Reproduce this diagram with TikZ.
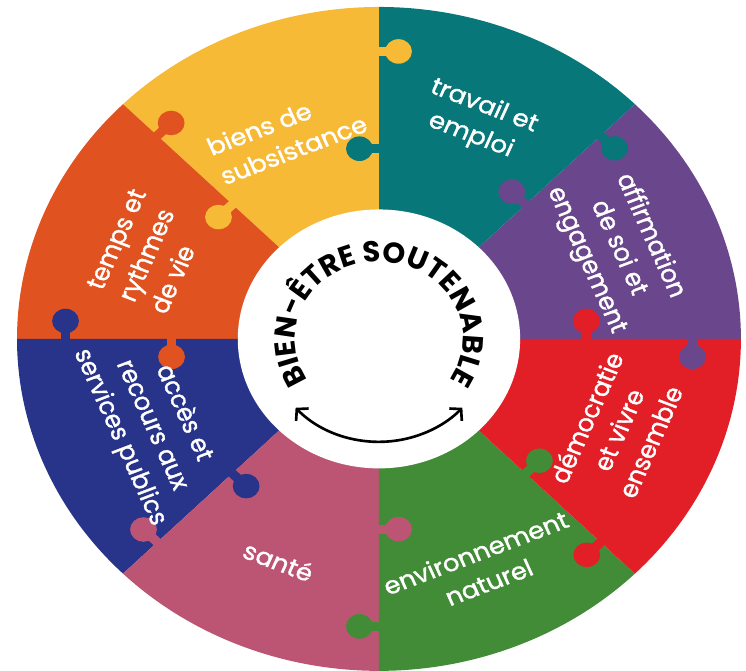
\documentclass[tikz,border=0pt]{standalone}
\usepackage{fontspec}
\setmainfont{Poppins}
\newfontfamily\piecefont{Poppins}[FakeBold=1.3]
\usetikzlibrary{decorations.text,arrows.meta}

\definecolor{clrpurple}{HTML}{6A478C}
\definecolor{clrteal}{HTML}{077779}
\definecolor{clryellow}{HTML}{F7BA36}
\definecolor{clrorange}{HTML}{E0521F}
\definecolor{clrnavy}{HTML}{28338A}
\definecolor{clrpink}{HTML}{BC5574}
\definecolor{clrgreen}{HTML}{428B37}
\definecolor{clrred}{HTML}{E21F26}

\begin{document}
\begin{tikzpicture}[x=6.64cm,y=6.64cm,xscale=1.0904,
    piecetext/.style={text=white,align=center,inner sep=0pt,
      font=\piecefont\fontsize{13.5}{18}\selectfont,transform shape}]

\def\outerR{1}
\def\innerR{0.39}
\def\knobR{0.037}
\def\neckW{0.0135}
\def\knobOff{0.054}
\def\knobIn{0.573}
\def\knobOut{0.866}
\def\titleR{0.232}
\def\arrowR{0.31}

\useasboundingbox (-1.047,-1.0) rectangle (1.014,1.021);

% the eight pieces
\foreach \a/\clr in {0/clrpurple,45/clrteal,90/clryellow,135/clrorange,
                     180/clrnavy,225/clrpink,270/clrgreen,315/clrred}
	\fill [\clr] (0,0) -- (\a:\outerR) arc [start angle=\a, end angle=\a+45, radius=\outerR] -- cycle;

% puzzle knobs on every seam
\foreach \a/\clrcw/\clrccw in {0/clrred/clrpurple,45/clrpurple/clrteal,90/clrteal/clryellow,
                               135/clryellow/clrorange,180/clrorange/clrnavy,225/clrnavy/clrpink,
                               270/clrpink/clrgreen,315/clrgreen/clrred}{
	\begin{scope}[rotate=\a]
		% outer knob, pushed into the clockwise piece
		\fill [\clrccw] (\knobOut-\neckW,0.005) rectangle (\knobOut+\neckW,-\knobOff);
		\fill [\clrccw] (\knobOut,-\knobOff) circle [radius=\knobR];
		% inner knob, pushed the other way
		\fill [\clrcw] (\knobIn-\neckW,-0.005) rectangle (\knobIn+\neckW,\knobOff);
		\fill [\clrcw] (\knobIn,\knobOff) circle [radius=\knobR];
	\end{scope}
}

% hole in the middle
\fill [white] (0,0) circle [radius=\innerR];

% title round the hole
\path [decorate, decoration={text along path, text align=center,
       text={|\fontsize{16.5}{16.5}\selectfont\bfseries|BIEN-ÊTRE SOUTENABLE}}]
      (207:\titleR) arc [start angle=207, end angle=-27, radius=\titleR];

% both-way arrow under it
\coordinate (arrowL) at (222:\arrowR);
\draw [line width=1.5pt, {Straight Barb[length=4.5pt,width=10pt]}-{Straight Barb[length=4.5pt,width=10pt]}]
      (arrowL) arc [start angle=222, end angle=318, radius=\arrowR];

% labels of the pieces
\node [piecetext, align=left, rotate=22.5] (biens) at (112.5:0.665) {biens de\\subsistance};
\node [piecetext, rotate=-22.5] (travail)       at (67.5:0.71)   {travail et\\emploi};
\node [piecetext, rotate=-67.5] (affirmation)   at (22.5:0.715)  {affirmation\\de soi et\\engagement};
\node [piecetext, rotate=67.5]  (democratie)    at (-22.5:0.715) {démocratie\\et vivre\\ensemble};
\node [piecetext, rotate=22.5]  (environnement) at (-67.5:0.745) {environnement\\naturel};
\node [piecetext, rotate=-22.5] (sante)         at (-112.5:0.725) {santé};
\node [piecetext, rotate=-67.5] (acces)         at (-157.5:0.68) {accès et\\recours aux\\services publics};
\node [piecetext, align=left, rotate=67.5] (temps) at (157.5:0.69) {temps et\\rythmes\\de vie};

\end{tikzpicture}
\end{document}
